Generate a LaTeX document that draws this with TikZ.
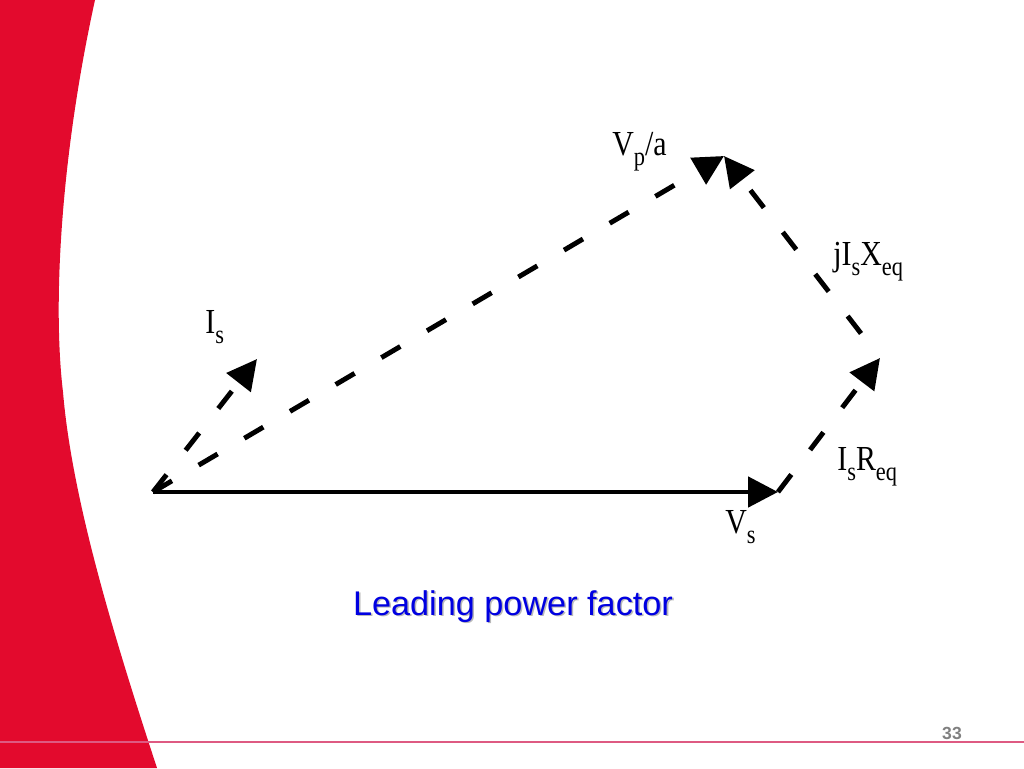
\documentclass[tikz,border=0pt]{standalone}
\usepackage{fontspec}
\usepackage{tikz}
\usetikzlibrary{arrows.meta, positioning}
\newfontfamily\lblfont[FakeStretch=0.85]{Liberation Serif}
\newfontfamily\capfont{Liberation Sans}
\definecolor{slidered}{RGB}{227,10,45}
\definecolor{rulepink}{RGB}{222,90,130}
\definecolor{capblue}{RGB}{0,0,225}
\newcommand{\lowsub}[1]{\raisebox{-0.3em}{\fontsize{15}{15}\selectfont #1}}

\begin{document}
\begin{tikzpicture}[x=0.02cm, y=-0.02cm,
                phasor/.style={line width=2.8pt, -{Triangle[length=0.6cm,width=0.6cm]}},
                dashphasor/.style={phasor, dash pattern=on 0.44cm off 0.62cm},
                lbl/.style={font=\lblfont\fontsize{20}{20}\selectfont, inner sep=0pt, anchor=base west}
                ]
                \useasboundingbox (0,0) rectangle (1024,768);
                % slide background
                \fill[slidered] (0,0) -- (95,0) .. controls (62,150) and (52,300) .. (63,392)
                  .. controls (72,500) and (115,640) .. (157,768) -- (0,768) -- cycle;
                \draw[rulepink, line width=1.2pt] (0,742) -- (1024,742);
                \node[font=\capfont\bfseries\fontsize{10}{10}\selectfont, text=gray, anchor=base, inner sep=0pt] (page) at (952,739) {33};
                % phasor end points
                \coordinate (o) at (153,492);
                \coordinate (vs) at (778,492);
                \coordinate (rr) at (880,358);
                \coordinate (vp) at (724,156);
                \coordinate (is) at (257,359);
                \draw[phasor] (o) -- (vs);
                \draw[dashphasor] (o) -- (is);
                \draw[dashphasor] (o) -- (vp);
                \draw[dashphasor] (vs) -- (rr);
                \draw[dashphasor, dash phase=0.44cm] (rr) -- (vp);
                % labels
                \node[lbl] (vplbl) at (612,155) {V\lowsub{p}/a};
                \node[lbl] (xlbl) at (833,265) {jI\lowsub{s}X\lowsub{eq}};
                \node[lbl] (islbl) at (205,333) {I\lowsub{s}};
                \node[lbl] (rlbl) at (837,470) {I\lowsub{s}R\lowsub{eq}};
                \node[lbl] (vslbl) at (725,533) {V\lowsub{s}};
                \node[font=\capfont\fontsize{19.5}{19.5}\selectfont, text=gray!55, anchor=base, inner sep=0pt] (capshadow) at (514.5,616.5) {Leading power factor};
                \node[font=\capfont\fontsize{19.5}{19.5}\selectfont, text=capblue, anchor=base, inner sep=0pt] (caption) at (513,615) {Leading power factor};
            \end{tikzpicture}
\end{document}
